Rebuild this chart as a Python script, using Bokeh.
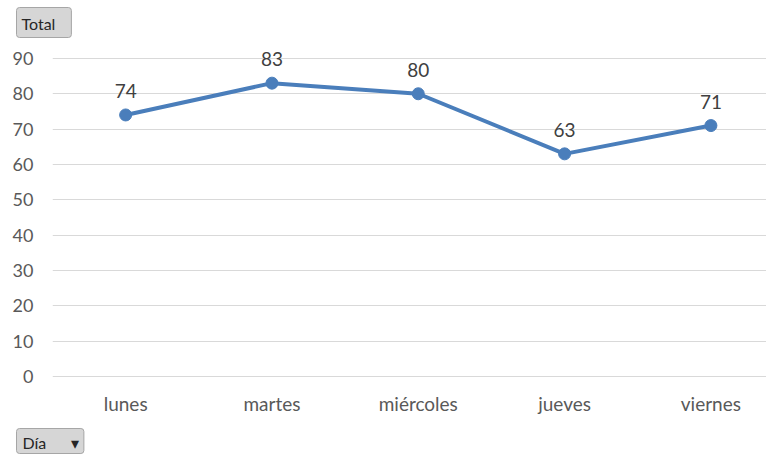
from bokeh.plotting import figure
from bokeh.models import ColumnDataSource, FixedTicker, LabelSet, Range1d, Title
from bokeh.core.properties import value
from bokeh.embed import file_html
from bokeh.resources import INLINE

dias = ["lunes", "martes", "miércoles", "jueves", "viernes"]
totales = [74, 83, 80, 63, 71]
y_ticks = [0, 10, 20, 30, 40, 50, 60, 70, 80, 90]

FONT = "Lato"
xs = list(range(len(dias)))
src = ColumnDataSource(dict(x=xs, y=totales, lab=[str(v) for v in totales]))

W, H = 766, 462
S = 320 / 90          # px per unit on the value axis
TOP_EXTRA, BOT_EXTRA = 14, 1
BL, BR, BT, BB = 52, 0, 58 - TOP_EXTRA, 84 - BOT_EXTRA

p = figure(width=W, height=H, output_backend="svg", toolbar_location=None,
           x_range=Range1d(-0.5, 4.38),
           y_range=Range1d(-BOT_EXTRA / S, 90 + TOP_EXTRA / S),
           min_border_left=BL, min_border_right=BR, min_border_top=BT, min_border_bottom=BB)
p.outline_line_color = None
p.background_fill_color = "white"

p.xaxis.ticker = FixedTicker(ticks=xs)
p.xaxis.major_label_overrides = {i: d for i, d in enumerate(dias)}
p.yaxis.ticker = FixedTicker(ticks=y_ticks)
for ax in (p.xaxis[0], p.yaxis[0]):
    ax.axis_line_color = None
    ax.major_tick_line_color = None
    ax.minor_tick_line_color = None
    ax.major_label_text_font = FONT
    ax.major_label_text_color = "#595959"
p.yaxis.major_label_text_font_size = "18px"
p.xaxis.major_label_text_font_size = "19px"
p.yaxis.major_label_standoff = 13
p.xaxis.major_label_standoff = 8
p.xgrid.grid_line_color = None
p.ygrid.grid_line_color = "#d9d9d9"
p.ygrid.grid_line_width = 1

p.line("x", "y", source=src, line_color="#4a7ebb", line_width=4)
p.scatter("x", "y", source=src, size=12, fill_color="#4a7ebb", line_color="#4a7ebb")
p.add_layout(LabelSet(x="x", y="y", text="lab", source=src, text_align="center",
                      text_baseline="bottom", y_offset=17, text_font=value(FONT),
                      text_font_size="19px", text_color="#404040"))

btn = dict(text_font=FONT, text_font_size="16px", text_color="#262626",
           text_font_style="normal", align="left", offset=-36,
           background_fill_color="#d6d6d6", border_line_color="#a6a6a6", border_radius=3)
p.add_layout(Title(text="Total", standoff=10, vertical_align="top",
                   padding=dict(left=5, right=16, top=6, bottom=5), **btn), "above")
p.add_layout(Title(text="Día\u00a0\u00a0\u00a0\u00a0\u00a0\u00a0▾", standoff=18,
                   padding=dict(left=6, right=5, top=4, bottom=2), **btn), "below")

open("out.html", "w").write(file_html(p, INLINE))
